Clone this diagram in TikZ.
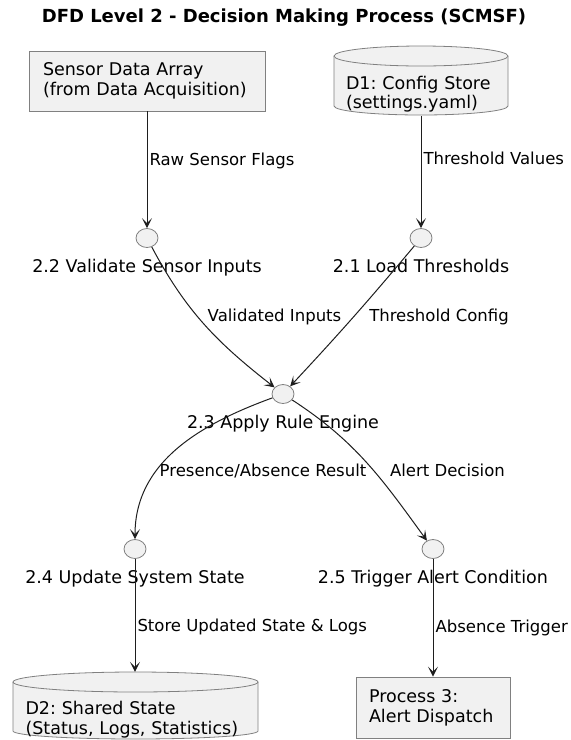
\documentclass[tikz,border=0pt]{standalone}
\usepackage{fontspec}
\setmainfont{DejaVu Sans}
\usetikzlibrary{arrows.meta,shapes.geometric}
\definecolor{boxfill}{HTML}{F1F1F1}
\definecolor{boxline}{HTML}{808080}
\definecolor{flowline}{HTML}{1E1E1E}
\frenchspacing
\begin{document}
\begin{tikzpicture}[x=1pt, y=1pt,
    flow/.style={draw=flowline, line width=1pt, -{Stealth[length=10pt, width=10pt, inset=5pt]}},
    proc/.style={ellipse, draw=boxline, fill=boxfill, line width=0.8pt, minimum width=22pt, minimum height=19pt, inner sep=0pt},
    plabel/.style={font=\fontsize{17.5}{21}\selectfont, text height=13pt, text depth=4pt, inner sep=2pt, yshift=-9.5pt},
    elabel/.style={font=\fontsize{16.5}{20}\selectfont, text height=12pt, text depth=4pt, inner sep=2pt},
    entity/.style={rectangle, draw=boxline, fill=boxfill, line width=0.8pt, align=left, font=\fontsize{17.5}{20}\selectfont, inner xsep=0pt},
    store/.style={draw=boxline, fill=boxfill, line width=0.8pt},
    storetext/.style={align=left, font=\fontsize{17.5}{19.5}\selectfont, inner sep=0pt}
  ]
  \useasboundingbox (0,0) rectangle (571,-740);
  \node[font=\bfseries\fontsize{18}{21}\selectfont] (title) at (284,-18) {DFD Level 2 - Decision Making Process (SCMSF)};

  \node[entity, minimum width=236pt, minimum height=60pt, text width=208pt] (src) at (147,-81) {Sensor Data Array\\(from Data Acquisition)};

  \filldraw[store] (334,-56) -- (334,-106) arc[start angle=180, end angle=360, x radius=87, y radius=9] -- (508,-56) arc[start angle=0, end angle=180, x radius=87, y radius=10] -- cycle;
  \draw[store, fill=none] (334,-56) arc[start angle=180, end angle=360, x radius=87, y radius=10];
  \node[storetext, text width=150pt, minimum height=44pt] (d1) at (421,-94) {D1: Config Store\\(settings.yaml)};

  \node[proc, label={[plabel]below:2.2 Validate Sensor Inputs}] (p22) at (147,-238) {};
  \node[proc, label={[plabel]below:2.1 Load Thresholds}] (p21) at (421,-238) {};
  \node[proc, label={[plabel]below:2.3 Apply Rule Engine}] (p23) at (283,-394) {};
  \node[proc, label={[plabel]below:2.4 Update System State}] (p24) at (135,-549) {};
  \node[proc, label={[plabel]below:2.5 Trigger Alert Condition}] (p25) at (433,-549) {};

  \filldraw[store] (13,-682) -- (13,-731) arc[start angle=180, end angle=360, x radius=122.5, y radius=8] -- (258,-682) arc[start angle=0, end angle=180, x radius=122.5, y radius=10] -- cycle;
  \draw[store, fill=none] (13,-682) arc[start angle=180, end angle=360, x radius=122.5, y radius=10];
  \node[storetext, text width=219pt, minimum height=44pt] (d2) at (135,-719.5) {D2: Shared State\\(Status, Logs, Statistics)};

  \node[entity, minimum width=154pt, minimum height=61pt, text width=128pt] (dispatch) at (433,-707.5) {Process 3:\\Alert Dispatch};

  \draw[flow] (src) -- (p22) node[elabel, right, pos=0.43] (lraw) {Raw Sensor Flags};
  \draw[flow] (d1) -- (p21) node[elabel, right, pos=0.4] (lthv) {Threshold Values};
  \draw[flow] (p22) to[out=-62, in=142] (p23);
  \draw[flow] (p21) to[out=-130, in=47] (p23);
  \node[elabel] (lvalid) at (274.5,-317) {Validated Inputs};
  \node[elabel] (lthc) at (439,-317) {Threshold Config};
  \draw[flow] (p23) to[out=200, in=90] (p24);
  \draw[flow] (p23) to[out=-33, in=126] (p25);
  \node[elabel] (lpres) at (263,-472) {Presence/Absence Result};
  \node[elabel] (lalert) at (447.5,-472) {Alert Decision};
  \draw[flow] (p24) -- ([yshift=25.5pt]d2.north) node[elabel, right, pos=0.61] (lstore) {Store Updated State \& Logs};
  \draw[flow] (p25) -- (p25 |- dispatch.north) node[elabel, right, pos=0.59] (labs) {Absence Trigger};
\end{tikzpicture}
\end{document}
